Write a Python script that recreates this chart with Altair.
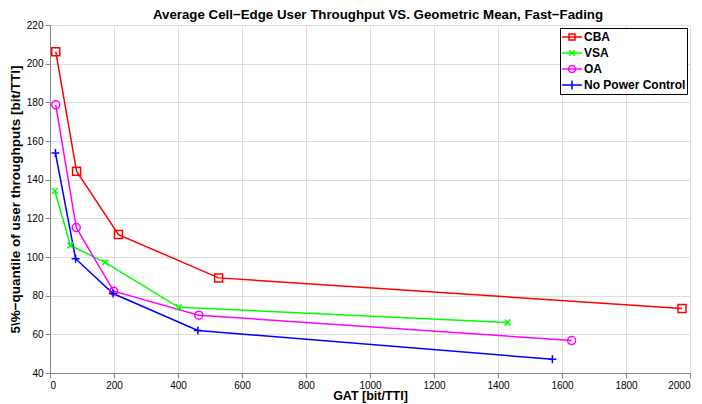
import altair as alt
import pandas as pd

series = ["CBA", "VSA", "OA", "No Power Control"]
colors = ["#ff0000", "#00ff00", "#ff00ff", "#0000ff"]

cba_x = [18, 83, 214, 527, 1975]
cba_y = [206.2, 144.4, 111.6, 89.2, 73.4]
vsa_x = [15, 64, 172, 402, 1430]
vsa_y = [134.1, 106.0, 97.2, 74.0, 66.1]
oa_x = [18, 82, 199, 465, 1630]
oa_y = [178.7, 115.2, 82.3, 69.9, 56.8]
npc_x = [17, 80, 197, 462, 1570]
npc_y = [153.8, 99.1, 81.1, 62.0, 47.1]

x_ticks = list(range(0, 2001, 200))
y_ticks = list(range(40, 221, 20))

rows = []
for name, xs, ys in [("CBA", cba_x, cba_y), ("VSA", vsa_x, vsa_y),
                     ("OA", oa_x, oa_y), ("No Power Control", npc_x, npc_y)]:
    for i, (xv, yv) in enumerate(zip(xs, ys)):
        rows.append({"series": name, "lg": name, "idx": i, "gat": xv, "q5": yv})
df = pd.DataFrame(rows)

# marker shapes (span sqrt(size))
marker_paths = [
    "square",
    "M-0.75,-0.75L0.75,0.75M-0.75,0.75L0.75,-0.75",
    "circle",
    "M-1,0L1,0M0,-1L0,1",
]
# legend symbols: line + marker (size 400 -> 20px span)
legend_paths = [
    "M-1,0L1,0M-0.3,-0.3L0.3,-0.3L0.3,0.3L-0.3,0.3Z",
    "M-1,0L1,0M-0.28,-0.28L0.28,0.28M-0.28,0.28L0.28,-0.28",
    "M-1,0L1,0M-0.35,0A0.35,0.35,0,1,1,0.35,0A0.35,0.35,0,1,1,-0.35,0",
    "M-1,0L1,0M0,-0.45L0,0.45",
]

FONT = "Liberation Sans"

xenc = alt.X("gat:Q",
             scale=alt.Scale(domain=[0, 2000], nice=False),
             axis=alt.Axis(values=x_ticks, format="d", title="GAT [bit/TTI]",
                           titleFontSize=12.5, titleY=26, titleBaseline="alphabetic"))
yenc = alt.Y("q5:Q",
             scale=alt.Scale(domain=[40, 220], nice=False),
             axis=alt.Axis(values=y_ticks, format="d",
                           title="5\\%\u2212quantile of user throughputs [bit/TTI]",
                           titleFontSize=13.5))
cscale = alt.Scale(domain=series, range=colors)

lines = alt.Chart(df).mark_line(strokeWidth=1.5).encode(
    x=xenc, y=yenc,
    color=alt.Color("series:N", scale=cscale, legend=None),
    order="idx:Q",
)

points = alt.Chart(df).mark_point(filled=False, size=64, strokeWidth=1.5, opacity=1).encode(
    x=xenc, y=yenc,
    color=alt.Color("series:N", scale=cscale, legend=None),
    shape=alt.Shape("series:N", scale=alt.Scale(domain=series, range=marker_paths), legend=None),
)

leg = dict(title=None, orient="top-right", offset=3,
           strokeColor="black", fillColor="white",
           padding=1, labelFont=FONT, labelFontSize=12,
           labelFontWeight="bold", labelColor="black",
           symbolSize=400, symbolStrokeWidth=1.5, clipHeight=16,
           rowPadding=0, labelOffset=1, cornerRadius=0)

legend_layer = alt.Chart(df).transform_filter("false").mark_point(
    filled=False, size=400, strokeWidth=1.5, opacity=1
).encode(
    x=xenc, y=yenc,
    color=alt.Color("lg:N", scale=alt.Scale(domain=series, range=colors),
                    legend=alt.Legend(**leg)),
    shape=alt.Shape("lg:N", scale=alt.Scale(domain=series, range=legend_paths),
                    legend=alt.Legend(**leg)),
)

chart = alt.layer(lines, points, legend_layer).resolve_scale(
    color="independent", shape="independent"
).properties(
    width=640, height=348,
    autosize=alt.AutoSizeParams(type="none"),
    padding={"left": 42, "top": 17, "right": 4, "bottom": 40},
    title=alt.Title("Average Cell\u2212Edge User Throughput VS. Geometric Mean, Fast\u2212Fading",
                    font=FONT, fontSize=13.3, fontWeight="bold", color="black",
                    frame="group", offset=-1, dx=8),
).configure_view(
    stroke="black", strokeWidth=1
).configure_axis(
    grid=True, gridColor="#b0b0b0", gridDash=[1, 2], gridWidth=1,
    domain=False, ticks=False,
    labelFont=FONT, labelFontSize=11.5, labelFontWeight="bold", labelColor="black",
    titleFont=FONT, titleFontWeight="bold", titleColor="black",
).configure_axisX(
    labelPadding=2,
).configure_axisY(
    labelPadding=6, titlePadding=2,
).configure(background="white")

chart.save("out.html", embed_options={"renderer": "svg", "actions": False})
